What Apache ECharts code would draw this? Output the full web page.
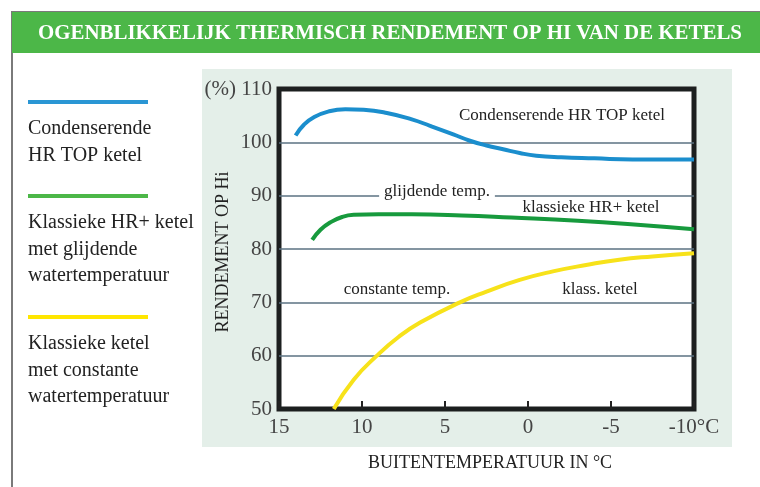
<!DOCTYPE html>
<html>
<head>
<meta charset="utf-8">
<script src="https://cdn.jsdelivr.net/npm/echarts@6/dist/echarts.min.js"></script>
<style>
  html, body { margin: 0; padding: 0; background: #fff; }
  #chart { width: 760px; height: 487px; }
</style>
</head>
<body>
<div id="chart"></div>
<script>
// outside temperature (°C) -> efficiency (%)
const condensing = [
  [14.0, 101.3], [13.5, 103.3], [12.9, 104.7], [12.0, 105.8], [11.0, 106.2],
  [9.9, 106.1], [8.5, 105.5], [7.0, 104.3], [5.9, 103.1], [4.5, 101.5],
  [3.5, 100.3], [2.5, 99.4], [1.5, 98.7], [0.5, 98.0], [-0.5, 97.5],
  [-2.0, 97.2], [-4.0, 97.0], [-6.3, 96.8], [-10, 96.8]
];
const slidingTemp = [
  [13.0, 81.7], [12.5, 83.6], [11.9, 85.0], [11.2, 86.0], [10.5, 86.4],
  [9.0, 86.5], [7.0, 86.5], [4.0, 86.3], [1.0, 85.9], [-3.0, 85.3],
  [-6.0, 84.7], [-10, 83.7]
];
const constantTemp = [
  [11.7, 50], [10.5, 55.5], [9.1, 60], [7.8, 63.5], [6.5, 66.2],
  [4.1, 70], [2.5, 72.0], [0.5, 74.2], [-1.5, 75.8], [-3.5, 77.0],
  [-5.5, 78.0], [-7.5, 78.6], [-10, 79.2]
];

const title = 'OGENBLIKKELIJK THERMISCH RENDEMENT OP HI VAN DE KETELS';
const legendItems = [
  { color: '#2a96d4', lines: ['Condenserende', 'HR TOP ketel'] },
  { color: '#4cb748', lines: ['Klassieke HR+ ketel', 'met glijdende', 'watertemperatuur'] },
  { color: '#ffe600', lines: ['Klassieke ketel', 'met constante', 'watertemperatuur'] }
];

const serif = '"Liberation Serif", "DejaVu Serif", serif';

let chartDom = document.getElementById('chart');
let myChart = echarts.init(chartDom);
let option;

let graphics = [
  // outer box + title bar
  { type: 'rect', shape: { x: 12, y: 12, width: 760, height: 490 }, style: { fill: 'none', stroke: '#7a7a7a', lineWidth: 2 }, z: -10 },
  { type: 'rect', shape: { x: 12, y: 12, width: 750, height: 41 }, style: { fill: '#4cb748' }, z: -9 },
  {
    type: 'text', x: 390, y: 33, scaleX: 0.95, originX: 0, originY: 0,
    style: { text: title, fill: '#fff', font: 'bold 22px ' + serif, align: 'center', verticalAlign: 'middle' }
  },
  // mint panel behind the plot
  { type: 'rect', shape: { x: 202, y: 69, width: 530, height: 378 }, style: { fill: '#e4efe9' }, z: -10 },
  // axis names
  { type: 'text', x: 490, y: 463, style: { text: 'BUITENTEMPERATUUR IN °C', font: '18px ' + serif, fill: '#222', align: 'center', verticalAlign: 'middle' } },
  { type: 'text', x: 223, y: 252, rotation: Math.PI / 2, style: { text: 'RENDEMENT OP Hi', font: '18px ' + serif, fill: '#222', align: 'center', verticalAlign: 'middle' } },
  // labels inside the plot
  { type: 'text', x: 562, y: 116, style: { text: 'Condenserende HR TOP ketel', font: '17px ' + serif, fill: '#222', align: 'center', verticalAlign: 'middle' }, z: 10 },
  { type: 'text', x: 437, y: 192, style: { text: 'glijdende temp.', font: '17px ' + serif, fill: '#222', align: 'center', verticalAlign: 'middle', backgroundColor: '#fff', padding: [0, 5] }, z: 10 },
  { type: 'text', x: 591, y: 208, style: { text: 'klassieke HR+ ketel', font: '17px ' + serif, fill: '#222', align: 'center', verticalAlign: 'middle' }, z: 10 },
  { type: 'text', x: 397, y: 290, style: { text: 'constante temp.', font: '17px ' + serif, fill: '#222', align: 'center', verticalAlign: 'middle' }, z: 10 },
  { type: 'text', x: 600, y: 290, style: { text: 'klass. ketel', font: '17px ' + serif, fill: '#222', align: 'center', verticalAlign: 'middle' }, z: 10 }
];

// legend on the left
let legendTop = [102, 196, 317];
legendItems.forEach(function (item, i) {
  graphics.push({
    type: 'line', shape: { x1: 28, y1: legendTop[i], x2: 148, y2: legendTop[i] },
    style: { stroke: item.color, lineWidth: 4 }
  });
  item.lines.forEach(function (t, j) {
    graphics.push({
      type: 'text', x: 28, y: legendTop[i] + 27 + j * 26.5,
      style: { text: t, font: '20px ' + serif, fill: '#222', verticalAlign: 'middle' }
    });
  });
});

option = {
  animation: false,
  grid: {
    left: 279, top: 89, width: 415, height: 320,
    show: true, backgroundColor: '#fff', borderColor: '#1c1f1f', borderWidth: 5
  },
  xAxis: {
    type: 'value',
    inverse: true,
    min: -10, max: 15, interval: 5,
    axisLine: { show: false },
    axisTick: { show: true, inside: true, length: 8, lineStyle: { color: '#222', width: 2 } },
    splitLine: { show: false },
    axisLabel: {
      margin: 8, fontFamily: serif, fontSize: 21, color: '#444',
      formatter: function (v) { return v === -10 ? '-10°C' : String(v); }
    }
  },
  yAxis: {
    type: 'value',
    min: 50, max: 110, interval: 10,
    axisLine: { show: false },
    axisTick: { show: false },
    splitLine: { show: true, showMinLine: false, showMaxLine: false, lineStyle: { color: '#5b7282', width: 1.5 } },
    axisLabel: {
      margin: 7, fontFamily: serif, fontSize: 21, color: '#444',
      formatter: function (v) { return v === 110 ? '(%) 110' : String(v); }
    }
  },
  series: [
    { name: 'Condenserende HR TOP ketel', type: 'line', smooth: true, showSymbol: false, data: condensing, lineStyle: { color: '#1b8ecd', width: 4 }, z: 3 },
    { name: 'Klassieke HR+ ketel', type: 'line', smooth: true, showSymbol: false, data: slidingTemp, lineStyle: { color: '#179a3d', width: 4 }, z: 3 },
    { name: 'Klassieke ketel', type: 'line', smooth: true, showSymbol: false, data: constantTemp, lineStyle: { color: '#f7e21a', width: 4 }, z: 3 }
  ],
  graphic: graphics
};

option && myChart.setOption(option);
</script>
</body>
</html>
